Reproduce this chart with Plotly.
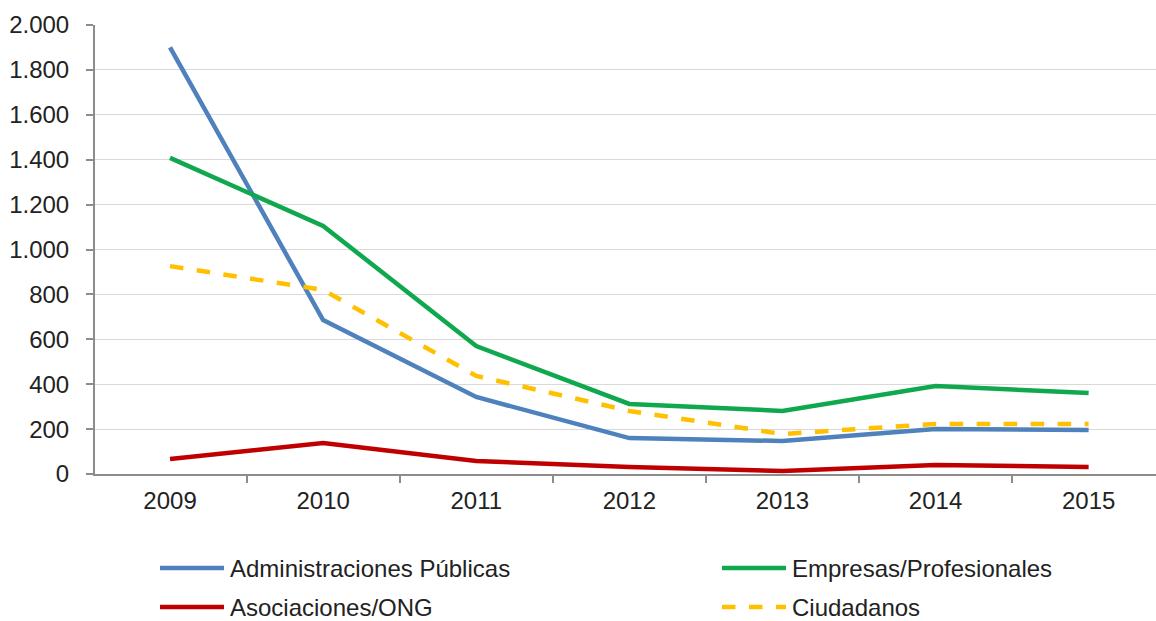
import plotly.graph_objects as go

years = ["2009", "2010", "2011", "2012", "2013", "2014", "2015"]
admin = [1900, 686, 343, 160, 147, 200, 196]
empresas = [1408, 1105, 570, 312, 281, 392, 361]
asociaciones = [67, 138, 58, 31, 13, 40, 31]
ciudadanos = [926, 820, 437, 281, 178, 223, 223]

names = ["Administraciones Públicas", "Empresas/Profesionales", "Asociaciones/ONG", "Ciudadanos"]
colors = ["#4F81BD", "#10A84E", "#C00000", "#FFC000"]
dashes = ["solid", "solid", "solid", "dash"]
series = [admin, empresas, asociaciones, ciudadanos]

W, H = 1156, 621
L, T, B = 95, 25, 147
fig = go.Figure()
for n, s, c, d in zip(names, series, colors, dashes):
    fig.add_trace(go.Scatter(x=years, y=s, name=n, mode="lines",
                             line=dict(color=c, width=4.5, dash=d), showlegend=False))

# manual legend (2 columns x 2 rows), positioned in paper pixels
leg_pos = [(160, 568), (722, 568), (160, 607), (722, 607)]
ph = H - T - B
pw = W - L
for (px, py), n, c, d in zip(leg_pos, names, colors, dashes):
    x0 = (px - L) / pw
    x1 = (px + 64 - L) / pw
    yy = (H - B - py) / ph
    fig.add_shape(type="line", xref="paper", yref="paper", x0=x0, x1=x1, y0=yy, y1=yy,
                  line=dict(color=c, width=4.5, dash=d))
    fig.add_annotation(xref="paper", yref="paper", x=(px + 68 - L) / pw, y=yy,
                       text=n, showarrow=False, xanchor="left", yanchor="middle",
                       font=dict(size=24, color="#222222"))

font = "Liberation Sans, Arial, sans-serif"
fig.update_layout(
    width=W, height=H,
    margin=dict(l=L, r=0, t=T, b=B, autoexpand=False),
    paper_bgcolor="white", plot_bgcolor="white",
    separators=",.",
    font=dict(family=font, size=24, color="#222222"),
    showlegend=False,
    xaxis=dict(type="category", range=[-0.49, 6.44], showgrid=False, automargin=False,
               showline=True, linecolor="#8C8C8C", linewidth=2,
               ticks="outside", tickson="boundaries", ticklen=7, tickcolor="#8C8C8C",
               tickwidth=1.5, tickfont=dict(size=24), ticklabelstandoff=4),
    yaxis=dict(range=[0, 2000], tickmode="array", automargin=False,
               tickvals=[0, 200, 400, 600, 800, 1000, 1200, 1400, 1600, 1800, 2000],
               tickformat=",d", showgrid=True, gridcolor="#D9D9D9", gridwidth=1.2,
               showline=True, linecolor="#8C8C8C", linewidth=2,
               ticks="outside", ticklen=7, tickcolor="#8C8C8C", tickwidth=1.5,
               zeroline=False, tickfont=dict(size=24), ticklabelstandoff=12),
)

fig.write_html("out.html", config={"displayModeBar": False},
               post_script="document.body.style.margin='0';document.body.style.overflow='hidden';")
